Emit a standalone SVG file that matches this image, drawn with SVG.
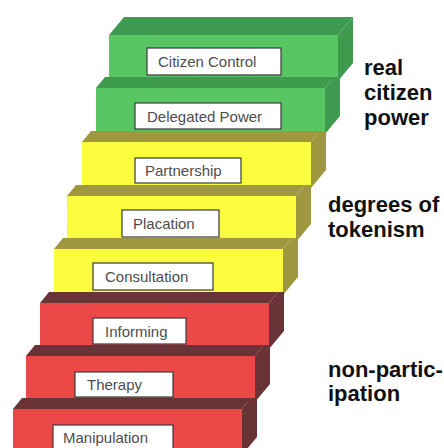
<svg xmlns="http://www.w3.org/2000/svg" width="444" height="448" viewBox="0 0 444 448">
<style>
.gf{fill:#58c663}.gd{fill:#3d9a4f}
.yf{fill:#fcfc3e}.yd{fill:#a09840}
.rf{fill:#ec4848}.rd{fill:#6a3338}
.lb{fill:#ffffff;stroke:#3a3a3a;stroke-width:1.2}
.lt{font-family:"Liberation Sans",Arial,sans-serif;font-size:15px;fill:#4e4e4e}
.side{font-family:"Liberation Sans",Arial,sans-serif;font-size:22px;font-weight:bold;fill:#111111}
</style>
<rect width="444" height="448" fill="#ffffff"/>
<g id="citizen-control">
<rect class="gf" x="109" y="35" width="229" height="46"/>
<polygon class="gd" points="109,35 124,17 353,17 338,35"/>
<polygon class="gd" points="338,35 353,17 353,63 338,81"/>
<rect class="lb" x="147" y="48" width="134" height="27"/>
<text class="lt" x="158" y="67">Citizen Control</text>
</g>
<g id="delegated-power">
<rect class="gf" x="96" y="88" width="229" height="46"/>
<polygon class="gd" points="96,88 105,77 334,77 325,88"/>
<polygon class="gd" points="325,88 334,77 340,77 340,116 325,134"/>
<rect class="lb" x="135" y="103" width="146" height="26"/>
<text class="lt" x="147" y="122">Delegated Power</text>
</g>
<g id="partnership">
<rect class="yf" x="82" y="142" width="229" height="46"/>
<polygon class="yd" points="82,142 91,131 320,131 311,142"/>
<polygon class="yd" points="311,142 320,131 326,131 326,170 311,188"/>
<rect class="lb" x="135" y="158" width="106" height="25"/>
<text class="lt" x="145" y="176">Partnership</text>
</g>
<g id="placation">
<rect class="yf" x="67" y="196" width="229" height="46"/>
<polygon class="yd" points="67,196 76,185 305,185 296,196"/>
<polygon class="yd" points="296,196 305,185 311,185 311,224 296,242"/>
<rect class="lb" x="122" y="210" width="97" height="27"/>
<text class="lt" x="133" y="229">Placation</text>
</g>
<g id="consultation">
<rect class="yf" x="54" y="249" width="229" height="46"/>
<polygon class="yd" points="54,249 63,238 292,238 283,249"/>
<polygon class="yd" points="283,249 292,238 298,238 298,277 283,295"/>
<rect class="lb" x="93" y="263" width="120" height="27"/>
<text class="lt" x="105" y="282">Consultation</text>
</g>
<g id="informing">
<rect class="rf" x="40" y="303" width="229" height="46"/>
<polygon class="rd" points="40,303 49,292 278,292 269,303"/>
<polygon class="rd" points="269,303 278,292 284,292 284,331 269,349"/>
<rect class="lb" x="93" y="318" width="93" height="26"/>
<text class="lt" x="105" y="337">Informing</text>
</g>
<g id="therapy">
<rect class="rf" x="26" y="356" width="229" height="46"/>
<polygon class="rd" points="26,356 35,345 264,345 255,356"/>
<polygon class="rd" points="255,356 264,345 270,345 270,384 255,402"/>
<rect class="lb" x="75" y="372" width="98" height="25"/>
<text class="lt" x="87" y="390">Therapy</text>
</g>
<g id="manipulation">
<rect class="rf" x="13" y="409" width="229" height="46"/>
<polygon class="rd" points="13,409 22,398 251,398 242,409"/>
<polygon class="rd" points="242,409 251,398 257,398 257,437 242,455"/>
<rect class="lb" x="53" y="425" width="120" height="27"/>
<text class="lt" x="63" y="443">Manipulation</text>
</g>
<g id="connectors"></g>
<g id="real-citizen-power">
<text class="side" x="364" y="75">real</text>
<text class="side" x="364" y="100">citizen</text>
<text class="side" x="364" y="125">power</text>
</g>
<g id="degrees-of-tokenism">
<text class="side" x="328" y="212">degrees of</text>
<text class="side" x="328" y="237">tokenism</text>
</g>
<g id="non-participation">
<text class="side" x="328" y="377">non-partic-</text>
<text class="side" x="328" y="401">ipation</text>
</g>
</svg>
